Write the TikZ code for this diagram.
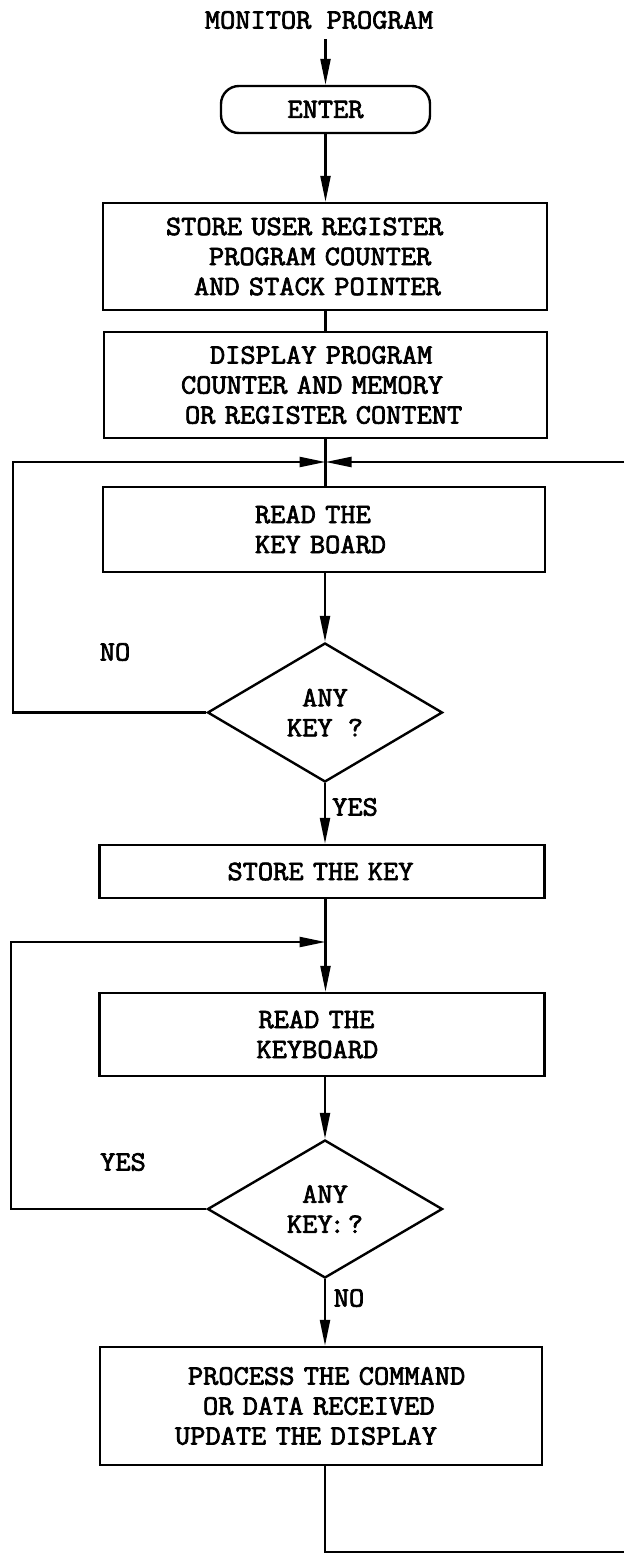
\documentclass[tikz,border=0pt]{standalone}
\usepackage{fontspec}
\newfontfamily\typefont[FakeBold=2.6,FakeStretch=1.055]{Latin Modern Mono}
\usetikzlibrary{arrows.meta,shapes.geometric}
\begin{document}
\begin{tikzpicture}[x=1pt,y=-1pt,
  txt/.style={font=\typefont\fontsize{28}{30}\selectfont, inner sep=0pt},
  stepbox/.style={txt, draw, line width=2.4pt, align=left},
  decision/.style={txt, draw, line width=2.4pt, diamond, align=center,
    minimum width=235pt, minimum height=139pt},
  link/.style={line width=2.3pt},
  arr/.style={link, -{Triangle[length=26pt,width=10pt]}}]

\useasboundingbox (0,0) rectangle (624,1554);
\fill[white] (0,0) rectangle (624,1554);

% title and entry point
\node[txt] (title) at (319,20) {MONITOR PROGRAM};
\node[txt, draw, line width=2.4pt, rounded corners=18pt,
      minimum width=209pt, minimum height=47pt] (enter) at (325.5,109.5) {ENTER};

% process boxes
\node[stepbox, text width=444pt, minimum height=107pt] (b1) at (325,256.5)
  {\hspace*{63pt}STORE USER REGISTER\\
   \hspace*{106pt}PROGRAM COUNTER\\
   \hspace*{91pt}AND STACK POINTER};
\node[stepbox, text width=443pt, minimum height=106pt] (b2) at (325.5,385)
  {\hspace*{106pt}DISPLAY PROGRAM\\
   \hspace*{77pt}COUNTER AND MEMORY\\
   \hspace*{81pt}OR REGISTER CONTENT};
\node[stepbox, text width=442pt, minimum height=85pt] (b3) at (324,529.5)
  {\hspace*{152pt}READ THE\\
   \hspace*{152pt}KEY BOARD};
\node[decision] (d1) at (325,712.5) {ANY\\KEY ?};
\node[stepbox, text width=445pt, minimum height=53pt] (b4) at (322,871.5)
  {\hspace*{128pt}STORE THE KEY};
\node[stepbox, text width=445pt, minimum height=83pt] (b5) at (322,1034.5)
  {\hspace*{159pt}READ THE\\
   \hspace*{157pt}KEYBOARD};
\node[decision, minimum height=138pt] (d2) at (325,1209) {ANY\\KEY\rlap{\kern-3pt:} ?};
\node[stepbox, text width=442pt, minimum height=118pt] (b6) at (321,1406)
  {\hspace*{88pt}PROCESS THE COMMAND\\
   \hspace*{103pt}OR DATA RECEIVED\\
   \hspace*{75pt}UPDATE THE DISPLAY};

% branch labels
\node[txt] (no1) at (115,652) {NO};
\node[txt] (yes1) at (355,807) {YES};
\node[txt] (yes2) at (123,1162) {YES};
\node[txt] (no2) at (349,1298) {NO};

% junctions and loose ends
\coordinate (j1) at (325.5,462);
\coordinate (lk1) at (13,462);
\coordinate (rk1) at (624,462);
\coordinate (j2) at (325.5,942);
\coordinate (lk2) at (11,942);
\coordinate (rk2) at (624,1552);

% main flow
\draw[arr] (enter.north |- title.south) ++(0,10) -- (enter.north);
\draw[arr] (enter.south) -- (enter.south |- b1.north);
\draw[link] (b1.south -| enter.south) -- (b2.north -| enter.south);
\draw[link] (b2.south -| j1) -- (b3.north -| j1);
\draw[arr] (b3.south -| d1.north) -- (d1.north);
\draw[arr] (d1.south) -- (d1.south |- b4.north);
\draw[arr] (b4.south -| j2) -- (b5.north -| j2);
\draw[arr] (b5.south -| d2.north) -- (d2.north);
\draw[arr] (d2.south) -- (d2.south |- b6.north);
\draw[link] (b6.south -| d2.south) |- (rk2);

% loops back into the flow
\draw[arr] (d1.west) -| (lk1) -- (j1);
\draw[arr] (rk1) -- (j1);
\draw[arr] (d2.west) -| (lk2) -- (j2);
\end{tikzpicture}
\end{document}
